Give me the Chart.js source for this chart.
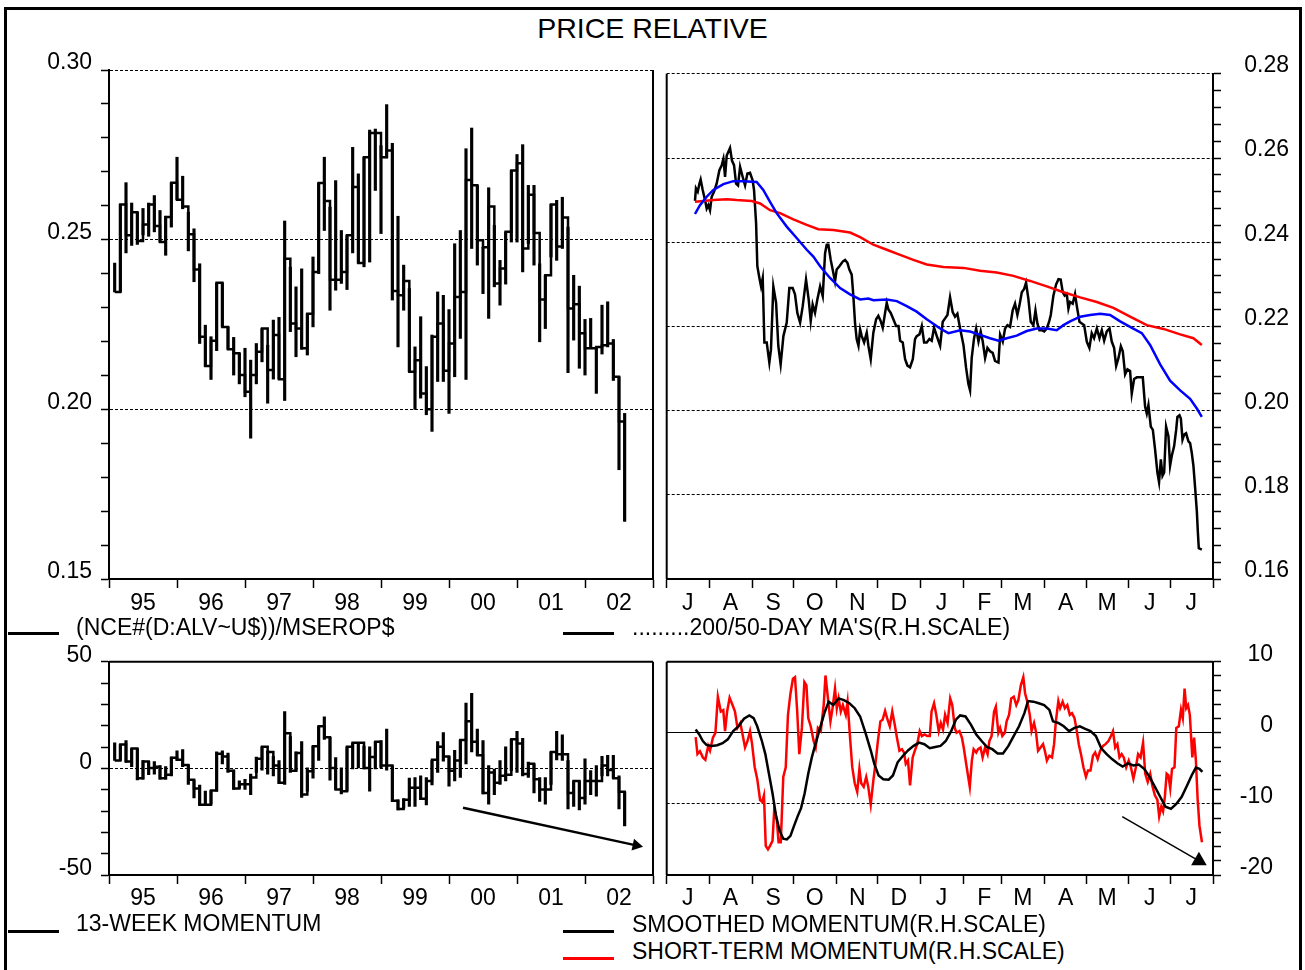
<!DOCTYPE html>
<html>
<head>
<meta charset="utf-8">
<title>Price relative</title>
<script src="https://cdn.jsdelivr.net/npm/chart.js@4.4.1/dist/chart.umd.min.js"></script>
<style>
  html, body { margin: 0; background: #fff; }
  body { position: relative; width: 1305px; height: 970px; overflow: hidden;
         font-family: "Liberation Sans", Arial, Helvetica, sans-serif; color: #000; }
  .frame { position: absolute; left: 4px; top: 7px; width: 1292px; height: 990px; border: 3px solid #000; }
  canvas { position: absolute; }
  .title { position: absolute; left: 0; top: 14px; width: 1305px; text-align: center; font-size: 28.5px; line-height: 28.5px; }
  .key { position: absolute; font-size: 23px; line-height: 23px; white-space: nowrap; }
  .swatch { position: absolute; width: 51px; height: 3px; background: #000; }
</style>
</head>
<body>
<div class="frame"></div>
<div class="title">PRICE RELATIVE</div>

<canvas id="priceChart" width="660" height="580" style="left:0;top:40px"></canvas>
<canvas id="dailyChart" width="685" height="580" style="left:620px;top:40px"></canvas>
<canvas id="momChart" width="660" height="300" style="left:0;top:620px"></canvas>
<canvas id="dailyMomChart" width="685" height="300" style="left:620px;top:620px"></canvas>

<div class="swatch" style="left:8px;top:632px"></div>
<div class="key" style="left:76px;top:616px">(NCE#(D:ALV~U$))/MSEROP$</div>
<div class="swatch" style="left:563px;top:632px"></div>
<div class="key" style="left:632px;top:616px">.........200/50-DAY MA'S(R.H.SCALE)</div>

<div class="swatch" style="left:8px;top:930px"></div>
<div class="key" style="left:76px;top:912px">13-WEEK MOMENTUM</div>
<div class="swatch" style="left:563px;top:930px"></div>
<div class="key" style="left:632px;top:913px">SMOOTHED MOMENTUM(R.H.SCALE)</div>
<div class="swatch" style="left:563px;top:957px;background:#f00"></div>
<div class="key" style="left:632px;top:940px">SHORT-TERM MOMENTUM(R.H.SCALE)</div>

<script>
(() => {
  "use strict";

  // ---- monthly price relative, Jan 1995 .. Jul 2002 (high / low / close) ----
  const priceHigh = [
    .2431,.2604,.2668,.2608,.2581,.2592,.2608,.2630,.2586,.2569,
    .2668,.2743,.2687,.2581,.2532,.2429,.2248,.2214,.2373,.2373,
    .2243,.2212,.2165,.2180,.2145,.2194,.2238,.2189,.2263,.2271,
    .2555,.2419,.2361,.2414,.2282,.2449,.2667,.2743,.2596,.2674,
    .2527,.2513,.2772,.2694,.2743,.2823,.2826,.2777,.2898,.2784,
    .2569,.2425,.2356,.2184,.2273,.2126,.2219,.2346,.2336,.2294,
    .2488,.2527,.2768,.2829,.2660,.2478,.2653,.2542,.2439,.2523,
    .2704,.2751,.2780,.2660,.2660,.2429,.2395,.2604,.2616,.2625,
    .2537,.2395,.2363,.2265,.2268,.2184,.2307,.2317,.2206,.2096,
    .1988
  ];
  const priceLow = [
    .2346,.2346,.2461,.2483,.2486,.2514,.2510,.2523,.2493,.2454,
    .2537,.2618,.2591,.2467,.2376,.2194,.2126,.2088,.2173,.2243,
    .2177,.2101,.2075,.2037,.1915,.2075,.2140,.2018,.2089,.2089,
    .2026,.2229,.2155,.2177,.2160,.2243,.2400,.2527,.2292,.2351,
    .2371,.2353,.2461,.2431,.2420,.2434,.2645,.2518,.2741,.2322,
    .2184,.2292,.2111,.2000,.2033,.1984,.1935,.2082,.2082,.1988,
    .2096,.2209,.2088,.2474,.2425,.2341,.2268,.2361,.2307,.2369,
    .2493,.2493,.2405,.2488,.2425,.2199,.2238,.2449,.2439,.2474,
    .2108,.2204,.2121,.2101,.2180,.2047,.2163,.2184,.2085,.1822,
    .1670
  ];
  const priceClose = [
    .2346,.2604,.2513,.2581,.2496,.2545,.2604,.2540,.2493,.2567,
    .2668,.2618,.2598,.2516,.2412,.2214,.2128,.2202,.2373,.2243,
    .2177,.2165,.2101,.2052,.2101,.2170,.2238,.2116,.2219,.2089,
    .2444,.2253,.2238,.2180,.2282,.2405,.2667,.2614,.2382,.2382,
    .2405,.2513,.2655,.2431,.2743,.2814,.2814,.2743,.2763,.2349,
    .2336,.2378,.2111,.2145,.2047,.2000,.2214,.2253,.2114,.2194,
    .2331,.2346,.2676,.2660,.2498,.2478,.2598,.2371,.2415,.2523,
    .2704,.2725,.2474,.2632,.2520,.2324,.2395,.2604,.2480,.2565,
    .2297,.2310,.2224,.2180,.2180,.2184,.2189,.2194,.2096,.1964,
    .1670
  ];

  // ---- 13-week momentum, same months ----
  const momHigh = [
    12,11.2,13,9.3,9.3,3.7,3.2,3.2,1.3,0.8,
    5.3,8.2,8.8,1.6,-5.4,-7.8,-10.7,-10.4,7.7,8.2,
    7.2,-0.8,-5.9,-5.1,-2.7,5.3,10.1,8.2,5.6,3.7,
    26.6,14.9,7.7,12.5,0.2,10.4,19.7,24.2,14.6,5.0,
    0.2,10.1,12.0,12.0,10.4,10.1,12.5,13.0,18.4,1.3,
    -14.7,-14.2,-4.6,-4.3,-3.5,-4.3,3.7,12.5,16.8,5.6,
    8.5,13.3,30.6,35.2,18.4,13.0,1.3,-0.3,3.7,10.1,
    13.6,17.3,14.1,2.9,2.1,-4.3,-4.3,7.7,17.3,15.7,
    3.7,-5.9,-5.9,4.5,-1.1,1.3,5.6,6.1,6.1,-3.5,
    -11.0
  ];
  const momLow = [
    3.7,3.7,2.9,0.8,-5.4,-5.1,-3.0,-2.7,-5.1,-5.1,
    -3.5,3.7,0.8,-7.5,-13.9,-17.4,-17.4,-16.8,-10.7,2.1,
    -1.9,-9.9,-9.4,-9.9,-12.3,-1.9,-0.8,-2.7,-3.5,-7.2,
    -7.5,-1.9,-1.4,-13.6,-10.7,-4.6,3.7,13.6,-5.6,-9.9,
    -12.0,-10.7,-0.3,0.2,-0.3,-10.7,-0.3,0.2,-0.8,-15.5,
    -19.5,-18.7,-17.9,-17.9,-14.7,-17.1,-7.8,-1.9,3.4,-8.3,
    -5.9,-4.3,2.1,7.7,6.1,-12.0,-16.8,-12.3,-7.5,-5.9,
    -1.1,-1.9,-3.5,-4.3,-11.5,-15.5,-16.8,-7.5,4.0,3.7,
    -19.0,-17.9,-19.5,-16.8,-12.3,-13.1,-3.5,-3.5,-4.6,-19.0,
    -27.0
  ];
  const momClose = [
    3.7,11.2,3.2,9.3,-4.6,3.2,0.2,0.8,-4.6,-3.0,
    5.0,4.0,1.6,-5.4,-9.4,-17.1,-17.1,-10.4,6.9,5.6,
    -1.1,-9.4,-7.5,-7.5,-4.3,4.5,10.1,7.7,1.3,-6.7,
    16.5,-1.1,7.2,-12.3,-1.4,10.4,19.7,14.6,0.2,-9.9,
    -10.7,10.1,12.0,12.0,0.2,5.3,12.5,1.3,1.3,-15.2,
    -19.0,-14.7,-9.1,-9.1,-14.2,-5.9,4.0,10.1,5.6,-1.1,
    3.7,13.3,22.1,12.5,6.1,-11.5,-1.9,-6.7,-3.5,-3.0,
    13.6,11.7,-2.7,2.1,-5.1,-9.9,-9.9,7.7,6.6,6.6,
    -11.5,-5.9,-13.9,-5.9,-5.9,-5.9,1.3,-0.8,-4.6,-11.0,
    -27.0
  ];

  // ---- daily series, [days since 1 Jul 2001, value] ----
  const dailyRelative = [
    [20.5,.2498],[21.2,.2528],[22.5,.2520],[23.7,.2539],[24.6,.2549],[26.1,.2524],[27.8,.2500],[29.0,.2480],
    [30.2,.2488],[31.4,.2476],[32.6,.2508],[34.3,.2520],[36.2,.2539],[38.2,.2571],[39.9,.2583],[41.1,.2598],
    [42.3,.2555],[43.5,.2606],[45.9,.2624],[47.3,.2594],[48.8,.2583],[50.3,.2539],[51.7,.2535],[53.2,.2579],
    [55.1,.2555],[56.8,.2535],[58.5,.2563],[60.4,.2565],[62.3,.2547],[63.3,.2524],[64.8,.2445],[65.7,.2343],
    [67.2,.2315],[68.4,.2295],[69.6,.2315],[70.8,.2162],[72.5,.2162],[74.4,.2114],[75.6,.2146],[77.3,.2295],
    [79.3,.2256],[80.9,.2154],[82.6,.2110],[84.6,.2177],[87.0,.2209],[88.9,.2291],[91.3,.2291],[93.0,.2276],
    [94.7,.2232],[96.7,.2209],[98.6,.2248],[101.0,.2311],[102.9,.2264],[104.4,.2213],[105.8,.2252],[107.5,.2232],
    [109.2,.2264],[111.2,.2295],[113.1,.2272],[114.8,.2374],[116.0,.2394],[117.2,.2394],[118.9,.2358],[120.8,.2327],
    [122.0,.2307],[123.2,.2335],[125.2,.2343],[127.6,.2354],[129.3,.2358],[131.0,.2351],[132.4,.2335],[134.1,.2323],
    [135.3,.2272],[136.5,.2209],[137.7,.2170],[139.0,.2154],[140.2,.2193],[141.4,.2177],[143.1,.2162],[145.0,.2185],
    [146.2,.2154],[147.9,.2122],[149.8,.2185],[151.8,.2217],[153.4,.2225],[155.1,.2213],[156.6,.2197],[158.3,.2232],
    [159.5,.2256],[160.7,.2240],[162.4,.2232],[164.3,.2217],[166.3,.2201],[168.0,.2201],[169.2,.2166],[171.1,.2162],
    [172.8,.2122],[174.5,.2107],[176.4,.2103],[178.4,.2122],[180.0,.2170],[181.2,.2177],[183.2,.2181],[184.9,.2201],
    [186.6,.2162],[188.5,.2162],[190.4,.2170],[192.1,.2166],[193.8,.2197],[195.8,.2177],[198.2,.2154],[200.1,.2211],
    [201.8,.2219],[203.5,.2227],[205.4,.2269],[207.3,.2234],[209.0,.2223],[210.7,.2230],[212.7,.2195],[215.1,.2156],
    [217.0,.2102],[218.7,.2063],[219.9,.2048],[221.1,.2125],[222.8,.2172],[224.3,.2195],[226.0,.2164],[227.6,.2188],
    [229.1,.2164],[230.8,.2125],[232.5,.2149],[234.4,.2141],[236.3,.2137],[238.0,.2118],[240.5,.2114],[241.7,.2180],
    [243.6,.2164],[245.3,.2195],[247.0,.2203],[248.9,.2199],[250.8,.2238],[252.5,.2254],[254.2,.2227],[255.7,.2250],
    [257.4,.2281],[259.1,.2289],[260.5,.2304],[262.2,.2265],[263.9,.2211],[265.8,.2203],[267.3,.2238],[268.7,.2207],
    [270.2,.2191],[271.9,.2191],[273.6,.2188],[275.5,.2195],[277.2,.2211],[278.4,.2227],[280.3,.2273],[282.3,.2300],
    [284.0,.2312],[285.6,.2311],[287.1,.2281],[288.5,.2273],[290.0,.2277],[291.2,.2242],[292.4,.2258],[294.3,.2254],
    [296.0,.2277],[297.2,.2250],[299.2,.2211],[300.9,.2207],[302.6,.2203],[304.5,.2164],[306.4,.2149],[308.1,.2184],
    [309.8,.2172],[311.8,.2195],[313.7,.2172],[315.4,.2191],[317.1,.2166],[319.0,.2188],[321.0,.2195],[322.6,.2164],
    [324.3,.2149],[325.8,.2106],[327.5,.2125],[329.2,.2153],[330.6,.2141],[332.3,.2086],[334.0,.2098],[335.9,.2094],
    [337.1,.2040],[338.8,.2075],[340.8,.2079],[343.2,.2079],[345.1,.2079],[346.8,.2009],[348.0,.1993],[349.2,.2013],
    [350.9,.1962],[352.4,.1954],[354.0,.1908],[355.7,.1853],[356.9,.1830],[358.2,.1884],[359.4,.1845],[360.6,.1853],
    [362.0,.1962],[363.7,.1939],[364.9,.1869],[366.1,.1892],[367.8,.1915],[369.3,.1954],[370.2,.1985],[371.7,.1989],
    [372.7,.1981],[373.9,.1931],[375.1,.1943],[376.5,.1946],[378.2,.1927],[379.4,.1923],[380.6,.1900],[381.8,.1869],
    [383.1,.1814],[384.3,.1760],[385.0,.1713],[385.7,.1673],[387.9,.1670]
  ];
  const ma50 = [
    [20.5,.2467],[24.1,.2488],[29.0,.2508],[33.8,.2524],[41.1,.2538],[48.3,.2545],[55.6,.2545],[65.2,.2543],
    [70.0,.2524],[74.9,.2496],[79.7,.2469],[87.0,.2437],[94.2,.2410],[101.5,.2382],[106.3,.2366],[111.2,.2343],
    [118.4,.2315],[125.7,.2291],[132.9,.2276],[140.2,.2264],[146.2,.2266],[149.8,.2262],[159.5,.2264],[166.8,.2260],
    [174.0,.2248],[181.2,.2235],[188.5,.2217],[198.2,.2195],[204.2,.2184],[212.7,.2191],[219.9,.2188],[227.2,.2180],
    [234.4,.2172],[240.5,.2166],[246.5,.2172],[253.7,.2178],[261.0,.2189],[268.2,.2195],[275.5,.2195],[282.7,.2191],
    [287.6,.2203],[292.4,.2212],[299.7,.2223],[306.9,.2227],[314.2,.2230],[321.4,.2227],[328.7,.2212],[335.9,.2199],
    [344.4,.2184],[350.4,.2156],[357.7,.2110],[364.9,.2071],[372.2,.2048],[379.4,.2028],[384.3,.2005],[387.9,.1985]
  ];
  const ma200 = [
    [20.5,.2496],[26.6,.2498],[33.8,.2500],[43.5,.2502],[50.7,.2500],[61.6,.2498],[67.7,.2492],[74.9,.2476],
    [82.2,.2469],[91.8,.2454],[101.5,.2441],[109.9,.2431],[120.8,.2429],[132.9,.2423],[140.2,.2412],[149.8,.2394],
    [159.5,.2382],[169.2,.2370],[178.8,.2358],[188.5,.2347],[200.6,.2341],[215.1,.2339],[227.2,.2332],[239.2,.2328],
    [251.3,.2320],[263.4,.2308],[275.5,.2295],[287.6,.2281],[299.7,.2269],[311.8,.2258],[323.8,.2244],[335.9,.2223],
    [348.0,.2203],[360.1,.2194],[372.2,.2181],[381.8,.2172],[387.9,.2156]
  ];
  const smoothedMomentum = [
    [21.0,0.46],[23.6,-0.23],[26.2,-1.15],[28.8,-1.7],[32.7,-1.84],[36.6,-1.75],[40.5,-1.47],[44.3,-0.92],
    [48.2,0.23],[52.1,0.92],[56.0,1.98],[59.9,2.44],[63.0,2.07],[65.6,0.92],[69.0,-1.15],[71.5,-3.0],
    [74.1,-5.76],[76.7,-8.5],[79.3,-11.75],[81.9,-13.8],[84.5,-14.9],[87.1,-15.0],[89.7,-14.5],[92.3,-13.1],
    [94.9,-11.75],[97.4,-10.6],[100.0,-8.5],[102.6,-5.76],[105.2,-3.46],[107.8,-1.6],[111.2,0.69],[114.3,2.76],
    [117.4,4.38],[120.8,3.9],[124.6,4.84],[128.5,4.6],[132.4,4.15],[136.3,3.46],[140.2,2.3],[144.1,0],
    [148.0,-2.53],[150.5,-4.38],[153.6,-6.0],[157.0,-6.54],[160.9,-6.6],[164.0,-6.0],[167.4,-4.15],[171.3,-3.23],
    [175.1,-2.44],[179.0,-1.84],[182.9,-1.38],[186.8,-1.6],[190.7,-2.17],[194.6,-2.0],[198.5,-1.84],[202.3,-1.15],
    [206.2,0.23],[209.6,1.84],[212.7,2.44],[216.6,2.3],[220.5,1.15],[224.4,-0.23],[228.3,-1.15],[232.1,-1.98],
    [236.0,-2.3],[239.9,-2.9],[243.8,-2.9],[247.7,-1.84],[251.5,-0.46],[255.4,0.92],[259.3,2.76],[261.9,4.47],
    [265.8,4.38],[269.7,4.15],[273.6,3.9],[277.4,3.23],[280.0,1.61],[283.9,1.38],[287.8,0.92],[291.7,0.23],
    [295.6,0.69],[299.5,0.92],[303.4,0.55],[307.2,0.23],[311.1,-0.46],[315.0,-2.17],[318.9,-3.0],[322.8,-3.7],
    [326.7,-4.29],[330.5,-4.75],[334.4,-4.29],[338.3,-4.6],[342.2,-4.47],[346.1,-5.07],[350.0,-6.2],[353.9,-7.6],
    [357.7,-9.0],[361.6,-10.4],[365.5,-10.7],[369.4,-10.0],[373.3,-9.0],[377.2,-7.4],[380.5,-6.0],[383.6,-4.9],
    [386.2,-5.07],[388.3,-5.5]
  ];
  const shortMomentum = [
    [21.0,-0.6],[22.3,-3.0],[24.1,-2.6],[26.2,-3.46],[28.0,-3.8],[30.1,-1.84],[31.4,-2.5],[33.5,-0.69],
    [35.3,0],[37.1,5.07],[39.2,3.0],[41.0,3.2],[42.3,0.23],[43.8,3.0],[45.6,4.93],[47.7,3.9],
    [49.5,3.0],[51.3,0.69],[53.4,1.38],[55.2,-0.46],[56.8,-2.07],[58.6,-1.15],[60.4,0.23],[61.9,-1.6],
    [63.8,-4.84],[65.6,-6.45],[67.7,-9.45],[69.2,-9.7],[70.5,-8.8],[71.8,-15.9],[73.4,-16.4],[74.9,-15.9],
    [76.7,-15.2],[78.0,-10.6],[79.8,-12.2],[81.1,-15.4],[82.7,-15.4],[84.5,-6.2],[86.3,-4.84],[87.9,2.53],
    [89.7,5.5],[91.5,7.6],[93.0,7.83],[94.6,2.99],[96.1,-3.0],[98.0,0.69],[99.8,7.14],[101.3,6.68],
    [102.6,2.07],[104.4,0.92],[106.5,-1.15],[108.0,-2.07],[109.6,0.69],[111.7,0.23],[113.8,3.9],[115.1,8.06],
    [116.9,4.84],[118.7,1.61],[120.2,3.46],[122.0,6.22],[123.3,3.46],[124.6,4.84],[126.2,3.0],[127.7,3.9],
    [129.8,2.53],[131.1,4.38],[132.9,-0.69],[134.5,-4.84],[136.3,-7.1],[138.1,-8.3],[139.7,-5.07],[141.0,-7.1],
    [142.8,-7.6],[144.6,-6.22],[146.1,-7.6],[147.9,-10.1],[149.8,-6.7],[151.3,-4.38],[153.1,-1.15],[154.9,1.61],
    [156.5,1.84],[158.3,3.09],[160.1,1.84],[161.7,0.92],[163.5,3.0],[165.3,1.15],[166.9,-0.69],[168.7,-2.53],
    [170.5,-2.3],[172.0,-2.76],[173.3,-4.38],[174.9,-3.9],[176.4,-7.4],[178.3,-3.46],[179.8,-2.53],[181.6,-1.6],
    [183.4,0.23],[185.0,-0.46],[186.8,-0.23],[188.9,-0.46],[190.7,-0.46],[192.0,3.0],[193.8,4.15],[195.4,2.53],
    [197.2,0.23],[198.7,1.38],[200.3,0.46],[201.8,2.53],[203.6,1.38],[205.5,4.84],[207.0,3.9],[208.8,0.69],
    [210.1,0],[212.2,0.23],[214.0,-0.69],[215.3,-2.07],[217.1,-4.38],[218.4,-6.0],[219.7,-7.6],[221.2,-3.9],
    [222.5,-2.3],[224.4,-2.76],[225.7,-2.3],[227.5,-2.07],[229.0,-3.46],[230.8,-2.07],[232.6,-3.0],[233.9,-1.15],
    [235.5,-0.46],[237.3,3.0],[238.6,3.69],[240.4,0],[241.7,0.69],[243.3,-0.46],[245.1,0],[246.4,1.61],
    [248.2,2.53],[249.7,4.84],[251.6,5.07],[253.4,3.9],[254.9,4.6],[256.7,6.68],[258.5,7.83],[259.8,5.53],
    [261.4,4.38],[263.2,2.53],[264.5,0.23],[266.3,1.38],[267.6,0.23],[269.2,-2.53],[271.0,-2.07],[272.8,-1.6],
    [274.1,-2.53],[275.6,-3.9],[277.4,-3.23],[279.3,-3.46],[280.8,-1.6],[282.1,1.61],[283.9,4.47],[285.2,3.46],
    [287.0,4.38],[288.6,3.46],[290.4,3.9],[292.2,2.53],[293.8,2.76],[295.6,2.07],[296.9,0.69],[298.7,-1.6],
    [300.3,-3.0],[302.1,-4.84],[303.9,-6.2],[305.4,-5.3],[307.2,-5.3],[309.0,-3.23],[310.6,-2.76],[312.4,-3.7],
    [314.2,-2.53],[316.3,-1.84],[318.1,-1.6],[320.2,-1.15],[322.0,-0.46],[323.5,0.23],[325.1,-2.07],[326.7,-1.6],
    [328.2,-3.46],[329.8,-3.0],[331.3,-3.46],[333.1,-4.84],[334.9,-3.9],[336.5,-4.84],[338.3,-6.45],[340.1,-4.84],
    [341.7,-3.0],[343.5,-3.46],[345.3,-1.38],[346.9,-5.76],[348.7,-6.9],[350.5,-5.76],[352.0,-7.4],[353.8,-8.76],
    [355.7,-9.45],[357.0,-11.75],[358.5,-10.4],[359.8,-11.06],[361.1,-9.0],[362.4,-5.76],[363.7,-6.0],[365.0,-7.8],
    [366.3,-5.07],[368.1,-4.84],[369.4,0.69],[371.2,0.92],[372.8,3.23],[374.1,2.07],[375.4,6.22],[376.6,3.46],
    [377.9,3.9],[379.2,2.53],[381.0,-3.46],[382.3,-0.69],[383.6,-3.9],[384.9,-9.45],[386.2,-13.1],[388.0,-15.4]
  ];

  // ---- axis labels and annotation arrows ----
  const yearLabels = ["95", "96", "97", "98", "99", "00", "01", "02"];
  const monthLabels = ["J", "A", "S", "O", "N", "D", "J", "F", "M", "A", "M", "J", "J"];
  const priceMajor = [0.15, 0.20, 0.25, 0.30];
  const momMajor = [-50, 0, 50];
  const dailyMajor = [0.16, 0.18, 0.20, 0.22, 0.24, 0.26, 0.28];
  const dailyMomMajor = [-20, -10, 0, 10];
  const weeklyArrow = [[2000.206, -18.5], [2002.753, -36.1]];
  const dailyArrow = [[330.2, -11.8], [385.8, -18.0]];

  // monthly bars sit at month end; daily x is days since 1 Jul 2001
  const monthX = (i) => 1995 + (i + 1) / 12;
  const day0 = Date.UTC(2001, 6, 1);
  const monthStarts = monthLabels.concat("").map((_, m) => (Date.UTC(2001, 6 + m, 1) - day0) / 864e5);

  const FONT = { family: "'Liberation Sans', Arial, Helvetica, sans-serif", size: 23 };
  const DASH = [3, 2];

  const steps = (min, max, step) => {
    const n = Math.round((max - min) / step);
    return Array.from({ length: n + 1 }, (_, k) => +(min + k * step).toFixed(6));
  };
  const has = (list, v) => list.some((m) => Math.abs(m - v) < 1e-9);

  // value axis: minor ticks every `step`, labels on `major`, grid lines on `grid`
  function valueAxis(o) {
    return {
      type: "linear", position: o.position, min: o.min, max: o.max,
      afterBuildTicks: (s) => { s.ticks = steps(o.min, o.max, o.step).map((v) => ({ value: v })); },
      afterFit: (s) => { s.width = o.width; },
      grid: {
        color: (c) => (c.tick && has(o.grid, c.tick.value) ? "#000" : "rgba(0,0,0,0)"),
        lineWidth: 1, tickColor: "#000", tickLength: 8, tickWidth: 1.5
      },
      border: {
        display: true, color: "#000", width: 2,
        dash: (c) => (c.tick && has(o.solid || [], c.tick.value) ? [] : DASH)
      },
      ticks: {
        autoSkip: false, color: "#000", font: FONT, padding: o.padding,
        labelOffset: o.labelOffset, crossAlign: o.crossAlign || "near",
        callback: (v) => (has(o.major, v) ? o.format(v) : "")
      }
    };
  }

  function timeAxis(o) {
    return {
      type: "linear", min: o.ticks[0], max: o.ticks[o.ticks.length - 1], offset: false,
      afterBuildTicks: (s) => { s.ticks = o.ticks.map((v) => ({ value: v })); },
      afterFit: (s) => { s.height = o.height; },
      grid: { drawOnChartArea: false, offset: false, tickLength: 9, tickColor: "#000", tickWidth: 1.5 },
      border: { display: true, color: "#000", width: 2 },
      ticks: {
        autoSkip: false, maxRotation: 0, minRotation: 0, color: "#000", font: FONT,
        padding: o.padding, labelOffset: o.labelOffset,
        callback: (v, i) => o.labels[i] || ""
      }
    };
  }

  // solid sides of a panel that no axis draws
  const panelFrame = {
    id: "panelFrame",
    afterDatasetsDraw(chart, args, opts) {
      const { ctx, chartArea: a } = chart;
      ctx.save();
      ctx.strokeStyle = "#000";
      ctx.lineWidth = 2;
      ctx.beginPath();
      if (opts.top) { ctx.moveTo(a.left, a.top); ctx.lineTo(a.right, a.top); }
      if (opts.left) { ctx.moveTo(a.left, a.top); ctx.lineTo(a.left, a.bottom); }
      if (opts.right) { ctx.moveTo(a.right, a.top); ctx.lineTo(a.right, a.bottom); }
      ctx.stroke();
      ctx.restore();
    }
  };

  const common = (padding, frame) => ({
    responsive: false, animation: false, events: [],
    layout: { padding, autoPadding: false },
    plugins: { legend: { display: false }, tooltip: { enabled: false }, panelFrame: frame }
  });

  const lineSet = (points, color, width, order) => ({
    type: "line", data: points.map(([x, y]) => ({ x, y })), borderColor: color,
    borderWidth: width, pointRadius: 0, tension: 0, order, clip: false
  });

  const hlBars = (high, low) => ({
    type: "bar", data: high.map((h, i) => ({ x: monthX(i), y: [low[i], h] })),
    backgroundColor: "#000", borderWidth: 0, barThickness: 2.5, grouped: false, order: 2
  });
  const closeSteps = (close) => ({
    type: "line", data: close.map((c, i) => ({ x: monthX(i), y: c })),
    stepped: true, borderColor: "#000", borderWidth: 2.5, pointRadius: 0, order: 1
  });
  const arrowSet = (pts, width, head, rotation) => ({
    type: "line", data: pts.map(([x, y]) => ({ x, y })), borderColor: "#000", backgroundColor: "#000",
    borderWidth: width, pointRadius: [0, head], pointStyle: "triangle", pointRotation: rotation,
    pointBorderWidth: 0, clip: false, order: 0
  });

  // top left: monthly price relative
  new Chart(document.getElementById("priceChart"), {
    type: "line",
    data: { datasets: [hlBars(priceHigh, priceLow), closeSteps(priceClose)] },
    options: {
      ...common({ left: 0, right: 7, top: 30, bottom: 0 }, { right: true }),
      scales: {
        x: timeAxis({ ticks: steps(1995, 2003, 1), labels: yearLabels, height: 41, padding: 2, labelOffset: 34 }),
        y: valueAxis({ position: "left", min: 0.15, max: 0.30, step: 0.01, major: priceMajor,
          grid: [0.20, 0.25, 0.30], width: 109, padding: 9, labelOffset: -7, format: (v) => v.toFixed(2) })
      }
    },
    plugins: [panelFrame]
  });

  // top right: daily relative with 50/200-day averages
  new Chart(document.getElementById("dailyChart"), {
    type: "line",
    data: {
      datasets: [
        lineSet(dailyRelative, "#000", 2.5, 3),
        lineSet(ma200, "#ff0000", 2.5, 2),
        lineSet(ma50, "#0000ff", 2.5, 1)
      ]
    },
    options: {
      ...common({ left: 46.7, right: 16, top: 30, bottom: 0 }, { left: true }),
      scales: {
        x: timeAxis({ ticks: monthStarts, labels: monthLabels, height: 41, padding: 2, labelOffset: 21 }),
        y: valueAxis({ position: "right", min: 0.16, max: 0.28, step: 0.004, major: dailyMajor,
          grid: [0.18, 0.20, 0.22, 0.24, 0.26, 0.28], width: 76, padding: 20, labelOffset: -8,
          crossAlign: "far", format: (v) => v.toFixed(2) })
      }
    },
    plugins: [panelFrame]
  });

  // bottom left: 13-week momentum
  new Chart(document.getElementById("momChart"), {
    type: "line",
    data: { datasets: [hlBars(momHigh, momLow), closeSteps(momClose), arrowSet(weeklyArrow, 2.5, 7, 102)] },
    options: {
      ...common({ left: 0, right: 7, top: 41.7, bottom: 0 }, { top: true, right: true }),
      scales: {
        x: timeAxis({ ticks: steps(1995, 2003, 1), labels: yearLabels, height: 45, padding: 1, labelOffset: 34 }),
        y: valueAxis({ position: "left", min: -50, max: 50, step: 10, major: momMajor,
          grid: [0], width: 109, padding: 9, labelOffset: -6, format: (v) => String(v) })
      }
    },
    plugins: [panelFrame]
  });

  // bottom right: smoothed and short-term momentum
  new Chart(document.getElementById("dailyMomChart"), {
    type: "line",
    data: {
      datasets: [
        lineSet(shortMomentum, "#ff0000", 2.5, 3),
        lineSet(smoothedMomentum, "#000", 2.5, 2),
        arrowSet(dailyArrow, 1.5, 9, 120)
      ]
    },
    options: {
      ...common({ left: 46.7, right: 32, top: 41.7, bottom: 0 }, { top: true, left: true }),
      scales: {
        x: timeAxis({ ticks: monthStarts, labels: monthLabels, height: 45, padding: 1, labelOffset: 21 }),
        y: valueAxis({ position: "right", min: -20, max: 10, step: 2, major: dailyMomMajor,
          grid: [-10, 0], solid: [0], width: 60, padding: 20, labelOffset: -7,
          crossAlign: "far", format: (v) => String(v) })
      }
    },
    plugins: [panelFrame]
  });
})();
</script>
</body>
</html>
